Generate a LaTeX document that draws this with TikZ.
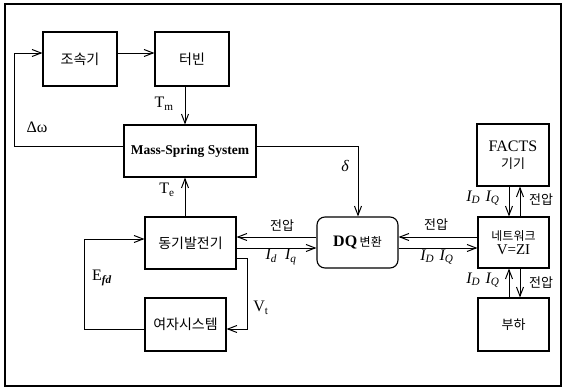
\documentclass[tikz,border=0pt]{standalone}
\usepackage{fontspec}
\setmainfont{Liberation Serif}
\newfontfamily\kr{Noto Sans CJK KR}
\usetikzlibrary{arrows.meta}
\begin{document}
\begin{tikzpicture}[x=1pt,y=-1pt,
  blk/.style={draw, line width=1.1pt, inner sep=0pt},
  ktext/.style={font=\kr\fontsize{14}{16}\selectfont},
  ksmall/.style={font=\kr\fontsize{13}{15}\selectfont},
  ltext/.style={font=\fontsize{16}{18}\selectfont},
  arr/.style={-{Straight Barb[length=9pt,width=7pt,line width=1pt]}, line width=1pt},
  lbl/.style={inner sep=0pt}]
\useasboundingbox (0,0) rectangle (563,388);
\draw[line width=1.1pt] (5,4) rectangle (561,386);

% blocks
\node[blk, ktext, minimum width=74pt, minimum height=54pt] (gov) at (80,59) {조속기};
\node[blk, ktext, minimum width=74pt, minimum height=54pt] (tur) at (192,59) {터빈};
\node[blk, minimum width=132pt, minimum height=52pt, font=\bfseries\fontsize{13.5}{15}\selectfont] (mss) at (190,151) {Mass-Spring System};
\node[blk, ktext, minimum width=91pt, minimum height=52pt] (gen) at (190.5,243) {동기발전기};
\node[blk, ktext, minimum width=81pt, minimum height=53pt] (exc) at (185.5,324.5) {여자시스템};
\node[blk, rounded corners=8pt, minimum width=81pt, minimum height=51pt] (dq) at (357.5,242.5) {{\bfseries\fontsize{16}{18}\selectfont DQ} {\kr\fontsize{12}{14}\selectfont 변환}};
\node[blk, minimum width=71pt, minimum height=51pt, align=center] (net) at (513.5,242.5) {{\kr\fontsize{12}{14}\selectfont 네트워크}\\[2pt]{\fontsize{15}{17}\selectfont V=ZI}};
\node[blk, minimum width=72pt, minimum height=62pt, align=center] (facts) at (513,155) {{\fontsize{16}{18}\selectfont FACTS}\\[5pt]{\kr\fontsize{13}{15}\selectfont 기기}};
\node[blk, ksmall, minimum width=71pt, minimum height=53pt] (load) at (513.5,324.5) {부하};

% connectors
\draw[arr] (gov.east |- 0,53) -- (tur.west |- 0,53);
\draw[arr] (mss.west |- 0,146) -- (14,146) -- (14,53) -- (gov.west |- 0,53);
\draw[arr] (tur.south -| 185,0) -- (mss.north -| 185,0);
\draw[arr] (gen.north -| 185,0) -- (mss.south -| 185,0);
\draw[arr] (mss.east |- 0,146) -- (358,146) -- (dq.north -| 358,0);
\draw[arr] (exc.west |- 0,329) -- (84,329) -- (84,239) -- (gen.west |- 0,239);
\draw[arr] (gen.east |- 0,258) -- (247,258) -- (247,329) -- (exc.east |- 0,329);
\draw[arr] (dq.west |- 0,237) -- (gen.east |- 0,237);
\draw[arr] (gen.east |- 0,248) -- (dq.west |- 0,248);
\draw[arr] (net.west |- 0,237) -- (dq.east |- 0,237);
\draw[arr] (dq.east |- 0,248) -- (net.west |- 0,248);
\draw[arr] (facts.south -| 509,0) -- (net.north -| 509,0);
\draw[arr] (net.north -| 520,0) -- (facts.south -| 520,0);
\draw[arr] (load.north -| 509,0) -- (net.south -| 509,0);
\draw[arr] (net.south -| 520,0) -- (load.north -| 520,0);

% labels
\node[lbl, ltext] (lTm) at (164,104) {T\textsubscript{m}};
\node[lbl, ltext] (ldw) at (37,127) {Δω};
\node[lbl, ltext] (lTe) at (167,190) {T\textsubscript{e}};
\node[lbl, ltext] (ld) at (345,166) {\itshape δ};
\node[lbl, ltext] (lE) at (102,278) {E\textsubscript{\itshape\bfseries fd}};
\node[lbl, ltext] (lV) at (261,308) {V\textsubscript{t}};
\node[lbl, ksmall] (v1) at (282,226) {전압};
\node[lbl, ltext] (i1) at (281,257) {\itshape I\textsubscript{d}\enspace I\textsubscript{q}};
\node[lbl, ksmall] (v2) at (436,225) {전압};
\node[lbl, ltext] (i2) at (437,257) {\itshape I\textsubscript{D}\,\,I\textsubscript{Q}};
\node[lbl, ltext] (i3) at (483,198) {\itshape I\textsubscript{D}\,\,I\textsubscript{Q}};
\node[lbl, ksmall] (v3) at (541,200) {전압};
\node[lbl, ltext] (i4) at (483,280) {\itshape I\textsubscript{D}\,\,I\textsubscript{Q}};
\node[lbl, ksmall] (v4) at (541,283) {전압};
\end{tikzpicture}
\end{document}
